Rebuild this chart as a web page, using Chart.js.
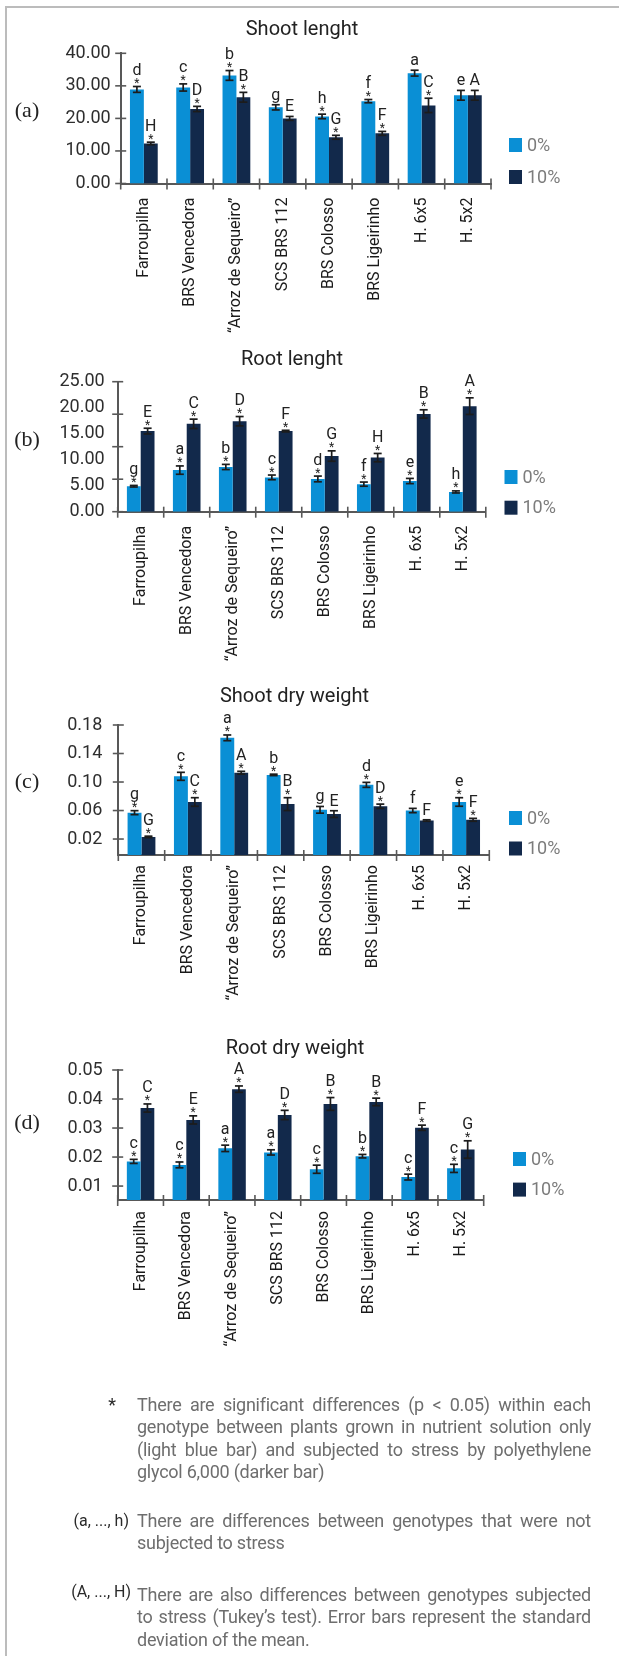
<!DOCTYPE html>
<html>
<head>
<meta charset="utf-8">
<title>Genotype responses to PEG stress</title>
<script src="https://cdn.jsdelivr.net/npm/chart.js@4.4.1/dist/chart.umd.min.js"></script>
<style>
  html, body { margin: 0; padding: 0; background: #fff; }
  body { width: 619px; height: 1656px; position: relative; overflow: hidden;
         font-family: Roboto, "Noto Sans", sans-serif; }
  .frame { position: absolute; left: 5px; top: 6px; width: 700px; height: 1700px;
           border-left: 2px solid #bcbcbc; border-top: 2px solid #bcbcbc; }
  canvas.panel { position: absolute; left: 0; top: 0; }
  .note { position: absolute; left: 0; width: 619px; font-size: 18px; line-height: 22.4px; }
  .key { position: absolute; right: 488px; color: #2a2a2a; white-space: nowrap; font-size: 16px; }
  .body { position: absolute; left: 137px; width: 454px; color: #6e6e6e; letter-spacing: -0.25px; }
  .ln { white-space: nowrap; }
  .j { text-align: justify; text-align-last: justify; }
</style>
</head>
<body>
<div class="frame"></div>
<canvas class="panel" id="panelA" width="619" height="1656"></canvas>
<canvas class="panel" id="panelB" width="619" height="1656"></canvas>
<canvas class="panel" id="panelC" width="619" height="1656"></canvas>
<canvas class="panel" id="panelD" width="619" height="1656"></canvas>

<div class="note" style="top:1394px">
  <div class="key" style="right:503px;font-size:18px">*</div>
  <div class="body">
    <div class="ln j">There are significant differences (p &lt; 0.05) within each</div>
    <div class="ln j">genotype between plants grown in nutrient solution only</div>
    <div class="ln j">(light blue bar) and subjected to stress by polyethylene</div>
    <div class="ln">glycol 6,000 (darker bar)</div>
  </div>
</div>
<div class="note" style="top:1510px">
  <div class="key" style="right:490px">(a, ..., h)</div>
  <div class="body">
    <div class="ln j">There are differences between genotypes that were not</div>
    <div class="ln">subjected to stress</div>
  </div>
</div>
<div class="note" style="top:1584px">
  <div class="key" style="top:-3px">(A, ..., H)</div>
  <div class="body">
    <div class="ln j">There are also differences between genotypes subjected</div>
    <div class="ln j">to stress (Tukey’s test). Error bars represent the standard</div>
    <div class="ln">deviation of the mean.</div>
  </div>
</div>

<script>
// ---- categories and treatments ----
const genotypes = ['Farroupilha', 'BRS Vencedora', '“Arroz de Sequeiro”', 'SCS BRS 112',
                   'BRS Colosso', 'BRS Ligeirinho', 'H. 6x5', 'H. 5x2'];
const treatments = ['0%', '10%'];

// ---- (a) shoot length ----
const shootLen0     = [28.9, 29.5, 33.2, 23.4, 20.6, 25.3, 33.9, 27.1];
const shootLen10    = [12.3, 22.9, 26.5, 20.0, 14.2, 15.4, 24.0, 27.1];
const shootLenErr0  = [0.9, 1.1, 1.5, 0.8, 0.7, 0.5, 0.9, 1.5];
const shootLenErr10 = [0.4, 0.8, 1.5, 0.6, 0.6, 0.6, 2.2, 1.5];
const shootLenGrp0  = ['d', 'c', 'b', 'g', 'h', 'f', 'a', 'e'];
const shootLenGrp10 = ['H', 'D', 'B', 'E', 'G', 'F', 'C', 'A'];
const shootLenSig0  = [true, true, true, false, true, true, false, false];
const shootLenSig10 = [true, true, true, false, true, true, true, false];
const shootLenTicks = [0, 10, 20, 30, 40];

// ---- (b) root length ----
const rootLen0     = [4.9, 8.0, 8.6, 6.6, 6.3, 5.3, 5.9, 3.8];
const rootLen10    = [15.5, 16.9, 17.4, 15.5, 10.7, 10.4, 18.8, 20.3];
const rootLenErr0  = [0.15, 0.8, 0.5, 0.45, 0.55, 0.4, 0.5, 0.2];
const rootLenErr10 = [0.55, 0.9, 0.9, 0.15, 1.0, 0.8, 0.8, 1.6];
const rootLenGrp0  = ['g', 'a', 'b', 'c', 'd', 'f', 'e', 'h'];
const rootLenGrp10 = ['E', 'C', 'D', 'F', 'G', 'H', 'B', 'A'];
const rootLenSig0  = [true, true, true, true, true, true, true, true];
const rootLenSig10 = [true, true, true, true, true, true, true, true];
const rootLenTicks = [0, 5, 10, 15, 20, 25];
const rootLenMarks = [0, 6.25, 12.5, 18.75, 25];

// ---- (c) shoot dry weight ----
const shootDw0     = [0.057, 0.108, 0.162, 0.110, 0.061, 0.096, 0.060, 0.072];
const shootDw10    = [0.023, 0.072, 0.113, 0.069, 0.055, 0.066, 0.046, 0.047];
const shootDwErr0  = [0.0028, 0.0056, 0.004, 0.001, 0.0047, 0.0035, 0.003, 0.006];
const shootDwErr10 = [0.001, 0.006, 0.002, 0.009, 0.0047, 0.003, 0.001, 0.002];
const shootDwGrp0  = ['g', 'c', 'a', 'b', 'g', 'd', 'f', 'e'];
const shootDwGrp10 = ['G', 'C', 'A', 'B', 'E', 'D', 'F', 'F'];
const shootDwSig0  = [true, true, true, true, false, true, false, true];
const shootDwSig10 = [true, true, true, true, false, true, false, true];
const shootDwTicks = [0.02, 0.06, 0.10, 0.14, 0.18];

// ---- (d) root dry weight ----
const rootDw0     = [0.0185, 0.0173, 0.0230, 0.0216, 0.0158, 0.0203, 0.0131, 0.0161];
const rootDw10    = [0.0369, 0.0328, 0.0434, 0.0345, 0.0383, 0.0390, 0.0301, 0.0226];
const rootDwErr0  = [0.0007, 0.0010, 0.0011, 0.0009, 0.0014, 0.0006, 0.0010, 0.0014];
const rootDwErr10 = [0.0014, 0.0014, 0.0011, 0.0016, 0.0022, 0.0013, 0.0009, 0.0030];
const rootDwGrp0  = ['c', 'c', 'a', 'a', 'c', 'b', 'c', 'c'];
const rootDwGrp10 = ['C', 'E', 'A', 'D', 'B', 'B', 'F', 'G'];
const rootDwSig0  = [true, true, true, true, true, true, true, true];
const rootDwSig10 = [true, true, true, true, true, true, true, true];
const rootDwTicks = [0.01, 0.02, 0.03, 0.04, 0.05];

// ---- styling ----
const FONT = 'Roboto, "Noto Sans", sans-serif';
const SERIF = '"Liberation Serif", "DejaVu Serif", serif';
const BLUE = '#0a8fd5';
const NAVY = '#12294b';
const INK = '#222222';
const AXIS = '#585858';
const PAGE_W = 619, PAGE_H = 1656, X_AXIS_H = 150;

function line(ctx, x1, y1, x2, y2) {
  ctx.beginPath(); ctx.moveTo(x1, y1); ctx.lineTo(x2, y2); ctx.stroke();
}

// Error bars, significance stars, group letters, crossing tick marks,
// the panel heading, the (a)-(d) tag and the legend.
const panelDecor = {
  id: 'panelDecor',
  afterDatasetsDraw(chart, args, o) {
    const ctx = chart.ctx, ys = chart.scales.y;
    ctx.save();
    chart.data.datasets.forEach((ds, di) => {
      const meta = chart.getDatasetMeta(di);
      meta.data.forEach((bar, i) => {
        const v = ds.data[i], e = ds.errors[i];
        const yHi = ys.getPixelForValue(v + e);
        const yLo = ys.getPixelForValue(v - e);
        const cx = bar.x;
        ctx.strokeStyle = '#1c1c1c';
        ctx.lineWidth = 1.7;
        line(ctx, cx, yHi, cx, yLo);
        line(ctx, cx - 4, yHi, cx + 4, yHi);
        line(ctx, cx - 4, yLo, cx + 4, yLo);

        ctx.fillStyle = INK;
        ctx.textAlign = 'center';
        ctx.textBaseline = 'alphabetic';
        let letterBase = yHi - 5;
        if (ds.stars[i]) {
          ctx.font = '12px ' + FONT;
          const m = ctx.measureText('*');
          const centre = yHi - 5.5;
          ctx.fillText('*', cx, centre + (m.actualBoundingBoxAscent - m.actualBoundingBoxDescent) / 2);
          letterBase = yHi - 11.5;
        }
        ctx.font = '16px ' + FONT;
        ctx.fillText(ds.letters[i], cx, letterBase);
      });
    });
    ctx.restore();
  },
  afterDraw(chart, args, o) {
    const ctx = chart.ctx, xs = chart.scales.x, ys = chart.scales.y;
    ctx.save();
    // crossing tick marks on both axes
    ctx.strokeStyle = AXIS;
    ctx.lineWidth = 1.6;
    o.marks.forEach(v => {
      const py = ys.getPixelForValue(v);
      line(ctx, xs.left - 5.5, py, xs.left + 5.5, py);
    });
    const half = (xs.getPixelForValue(1) - xs.getPixelForValue(0)) / 2;
    for (let i = 0; i <= chart.data.labels.length; i++) {
      const px = xs.getPixelForValue(i) - half;
      line(ctx, px, ys.bottom - 5, px, ys.bottom + 6);
    }
    // heading
    ctx.fillStyle = INK;
    ctx.font = '20px ' + FONT;
    ctx.textAlign = 'center';
    ctx.textBaseline = 'middle';
    ctx.fillText(o.heading, o.headingAt[0], o.headingAt[1]);
    // panel tag
    ctx.font = '22px ' + SERIF;
    ctx.fillText(o.tag, o.tagAt[0], o.tagAt[1]);
    // legend
    ctx.font = '18px ' + FONT;
    ctx.textAlign = 'left';
    chart.data.datasets.forEach((ds, di) => {
      const cy = o.legendAt[1 + di];
      ctx.fillStyle = ds.backgroundColor;
      ctx.fillRect(o.legendAt[0], cy - 7, 13, 14);
      ctx.fillStyle = '#7c7c7c';
      ctx.fillText(ds.label, o.legendAt[0] + 18, cy + 1);
    });
    ctx.restore();
  }
};

function buildPanel(id, p) {
  return new Chart(document.getElementById(id), {
    type: 'bar',
    data: {
      labels: genotypes,
      datasets: [
        { label: treatments[0], data: p.v0, errors: p.e0, letters: p.g0, stars: p.s0,
          backgroundColor: BLUE, base: p.min },
        { label: treatments[1], data: p.v10, errors: p.e10, letters: p.g10, stars: p.s10,
          backgroundColor: NAVY, base: p.min }
      ]
    },
    options: {
      responsive: false,
      animation: false,
      devicePixelRatio: 1,
      events: [],
      layout: { padding: { top: p.box.top, left: 0, right: PAGE_W - p.box.right,
                           bottom: PAGE_H - p.box.bottom - X_AXIS_H } },
      datasets: { bar: { barPercentage: 1, categoryPercentage: 0.6, borderWidth: 0 } },
      plugins: {
        legend: { display: false },
        tooltip: { enabled: false },
        title: { display: false },
        panelDecor: { marks: p.marks, heading: p.heading, headingAt: p.headingAt,
                      tag: p.tag, tagAt: p.tagAt, legendAt: p.legendAt }
      },
      scales: {
        x: {
          grid: { display: false, drawTicks: false },
          border: { display: true, color: AXIS, width: 2 },
          ticks: { autoSkip: false, minRotation: 90, maxRotation: 90, padding: p.xPad,
                   color: '#1a1a1a', font: { family: FONT, size: 16 } },
          afterFit: s => { s.height = X_AXIS_H; }
        },
        y: {
          min: p.min, max: p.max,
          grid: { display: false, drawTicks: false },
          border: { display: true, color: AXIS, width: 2 },
          ticks: { padding: p.yPad, color: '#2e2e2e', font: { family: FONT, size: 18 },
                   callback: v => Number(v).toFixed(2) },
          afterBuildTicks: s => { s.ticks = p.ticks.map(v => ({ value: v })); },
          afterFit: s => { s.width = p.box.left; }
        }
      }
    },
    plugins: [panelDecor]
  });
}

buildPanel('panelA', {
  v0: shootLen0, v10: shootLen10, e0: shootLenErr0, e10: shootLenErr10,
  g0: shootLenGrp0, g10: shootLenGrp10, s0: shootLenSig0, s10: shootLenSig10,
  ticks: shootLenTicks, marks: shootLenTicks, min: 0, max: 40,
  box: { top: 53.3, bottom: 183.5, left: 120.7, right: 491 }, yPad: 10, xPad: 14,
  heading: 'Shoot lenght', headingAt: [302, 30], tag: '(a)', tagAt: [27, 111.5],
  legendAt: [509, 145, 177]
});

buildPanel('panelB', {
  v0: rootLen0, v10: rootLen10, e0: rootLenErr0, e10: rootLenErr10,
  g0: rootLenGrp0, g10: rootLenGrp10, s0: rootLenSig0, s10: rootLenSig10,
  ticks: rootLenTicks, marks: rootLenMarks, min: 0, max: 25,
  box: { top: 381.7, bottom: 511.7, left: 117.7, right: 485.8 }, yPad: 13, xPad: 14,
  heading: 'Root lenght', headingAt: [292, 360], tag: '(b)', tagAt: [27, 440],
  legendAt: [504.5, 477, 507.7]
});

buildPanel('panelC', {
  v0: shootDw0, v10: shootDw10, e0: shootDwErr0, e10: shootDwErr10,
  g0: shootDwGrp0, g10: shootDwGrp10, s0: shootDwSig0, s10: shootDwSig10,
  ticks: shootDwTicks, marks: shootDwTicks, min: -0.0024, max: 0.18,
  box: { top: 725, bottom: 855, left: 118.3, right: 489.3 }, yPad: 16, xPad: 10,
  heading: 'Shoot dry weight', headingAt: [294.5, 697.3], tag: '(c)', tagAt: [27, 782],
  legendAt: [509, 818, 848.5]
});

buildPanel('panelD', {
  v0: rootDw0, v10: rootDw10, e0: rootDwErr0, e10: rootDwErr10,
  g0: rootDwGrp0, g10: rootDwGrp10, s0: rootDwSig0, s10: rootDwSig10,
  ticks: rootDwTicks, marks: rootDwTicks, min: 0.0052, max: 0.05,
  box: { top: 1070, bottom: 1200, left: 117.7, right: 483.7 }, yPad: 15, xPad: 11,
  heading: 'Root dry weight', headingAt: [295, 1049], tag: '(d)', tagAt: [27, 1123],
  legendAt: [513, 1159, 1189.6]
});
</script>
</body>
</html>
